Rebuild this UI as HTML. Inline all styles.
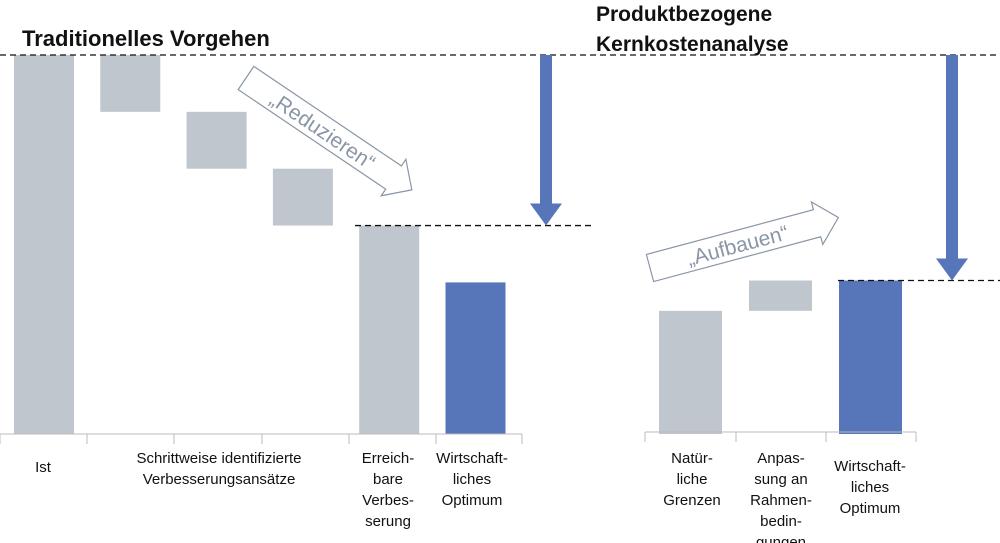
<!DOCTYPE html>
<html><head><meta charset="utf-8"><style>
html,body{margin:0;padding:0;background:#fff;}
svg{display:block;font-family:"Liberation Sans",sans-serif;}
</style></head><body>
<svg id="chart" width="1000" height="543" viewBox="0 0 1000 543">
<text x="22" y="46" font-size="22" font-weight="bold" fill="#111">Traditionelles Vorgehen</text>
<text x="596" y="21" font-size="21" font-weight="bold" fill="#111">Produktbezogene</text>
<text x="596" y="51" font-size="21" font-weight="bold" fill="#111">Kernkostenanalyse</text>
<g id="marks"></g>
<g id="deco"></g>
</svg>
<script>
const leftCats = ["Ist","Schritt 1","Schritt 2","Schritt 3","Erreichbare Verbesserung","Wirtschaftliches Optimum"];
const leftLow = [0,85,70,55,0,0];
const leftHigh = [100,100,85,70,55,40];
const rightCats = ["Natürliche Grenzen","Anpassung an Rahmenbedingungen","Wirtschaftliches Optimum"];
const rightLow = [0,32.5,0];
const rightHigh = [32.5,40.5,40.5];
const blueIdxLeft = 5, blueIdxRight = 2;

const NS="http://www.w3.org/2000/svg";
const marks=document.getElementById('marks');
const deco=document.getElementById('deco');
const y0=434, yTop=55;
const yScale=v=>y0-(y0-yTop)*v/100;
function mk(tag,attrs,parent){const e=document.createElementNS(NS,tag);for(const k in attrs)e.setAttribute(k,attrs[k]);(parent||marks).appendChild(e);return e;}
const leftX=i=>14+i*86.3;
const rightX=i=>659+i*90;
const grey="#bfc6cd", blue="#5676b9";
leftCats.forEach((c,i)=>{
  const r=mk('rect',{x:leftX(i),y:yScale(leftHigh[i]),width:60,height:yScale(leftLow[i])-yScale(leftHigh[i]),fill:i===blueIdxLeft?blue:grey});
  
  
});
rightCats.forEach((c,i)=>{
  const r=mk('rect',{x:rightX(i),y:yScale(rightHigh[i]),width:63,height:yScale(rightLow[i])-yScale(rightHigh[i]),fill:i===blueIdxRight?blue:grey});
  
  
});
const ax1=mk('path',{d:"M0 434H522"+[0,87,174,262,349,436,522].map(x=>`M${x} 434V444`).join(''),stroke:"#bbb","stroke-width":1,fill:"none"},deco);


const ax2=mk('path',{d:"M645 432H916"+[645,736,826,916].map(x=>`M${x} 432V442`).join(''),stroke:"#bbb","stroke-width":1,fill:"none"},deco);


const dl=[[0,1000,yScale(100)],[355,595,yScale(leftHigh[4])],[838,1000,yScale(rightHigh[2])]];
dl.forEach((d,i)=>{const l=mk('line',{x1:d[0],x2:d[1],y1:d[2],y2:d[2],stroke:"#111","stroke-width":1.3,"stroke-dasharray":"6 4"},deco);

});
function downArrow(cx,y1,y2,name){const p=mk('path',{d:`M${cx-6} ${y1}H${cx+6}V${y2-22}H${cx+16}L${cx} ${y2}L${cx-16} ${y2-22}H${cx-6}Z`,fill:blue},deco);

}
downArrow(546,yScale(100),yScale(leftHigh[4]),'reduction-arrow');
downArrow(952,yScale(100),yScale(rightHigh[2]),'gap-arrow');
function hollow(x,y,ang,len,label,name){
  const g=mk('g',{transform:`translate(${x},${y}) rotate(${ang})`},deco);
  
  
  mk('path',{d:`M0 -14H${len-22}V-22L${len} 0L${len-22} 22V14H0Z`,fill:"#fff",stroke:"#8a96a6","stroke-width":1.2},g);
  const t=mk('text',{x:(len-22)/2+4,y:8,"font-size":21,fill:"#8a96a6","text-anchor":"middle"},g);
  t.textContent=label;
}
hollow(246,78,34,200,"„Reduzieren“",'reduzieren-arrow');
hollow(650,268,-15,195,"„Aufbauen“",'aufbauen-arrow');
const labels=[
 [43,["Ist"],467],[219,["Schrittweise identifizierte","Verbesserungsansätze"],458],
 [388,["Erreich-","bare","Verbes-","serung"],458],[472,["Wirtschaft-","liches","Optimum"],458],
 [692,["Natür-","liche","Grenzen"],458],[781,["Anpas-","sung an","Rahmen-","bedin-","gungen"],458],
 [870,["Wirtschaft-","liches","Optimum"],466]];
labels.forEach((l,i)=>{const t=mk('text',{x:l[0],y:l[2]+5,"font-size":15,fill:"#111","text-anchor":"middle"},deco);


l[1].forEach((s,j)=>{const ts=mk('tspan',{x:l[0],dy:j?21:0},t);ts.textContent=s;});});
</script>
</body></html>
